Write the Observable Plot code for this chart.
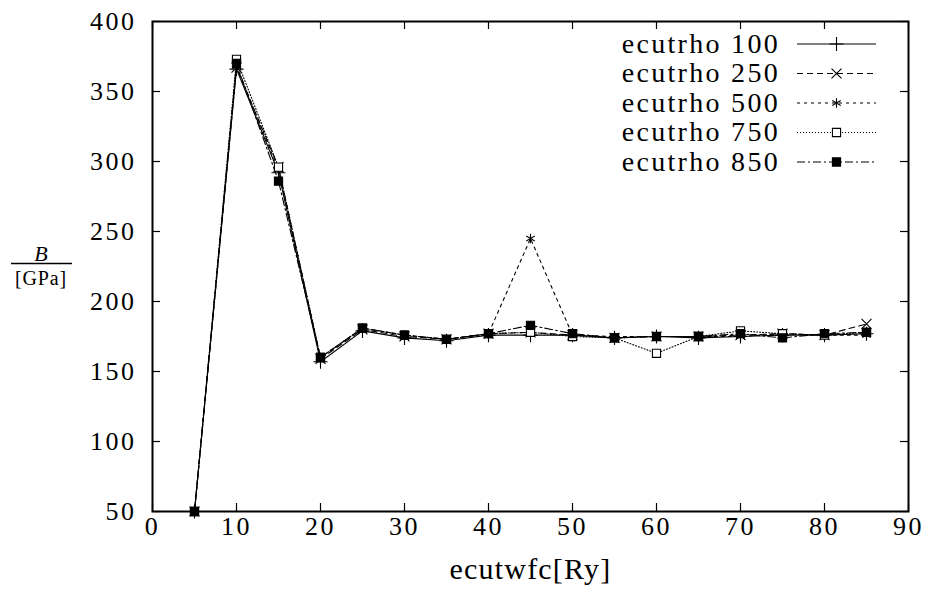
<!DOCTYPE html>
<html><head><meta charset="utf-8">
<script src="https://cdn.jsdelivr.net/npm/d3@7"></script>
<script src="https://cdn.jsdelivr.net/npm/@observablehq/plot@0.6"></script>
<style>
body{margin:0;background:#fff}
svg text { font-family: "Liberation Serif", "Times New Roman", Times, "DejaVu Serif", serif !important; }
</style>
</head><body><div id="chart"></div>
<script>
// ---- data ----
const ecutwfc = [5, 10, 15, 20, 25, 30, 35, 40, 45, 50, 55, 60, 65, 70, 75, 80, 85];
const ecutrho100 = [50, 366, 292, 157, 179, 174, 172, 176, 176, 176, 174, 175, 174, 175, 176, 176, 177];
const ecutrho250 = [50, 367, 296, 159, 180, 175, 173, 177, 178, 176, 174, 175, 175, 176, 177, 176, 184];
const ecutrho500 = [50, 368, 294, 160, 181, 176, 173, 177, 245, 176, 175, 175, 175, 175, 177, 176, 176];
const ecutrho750 = [50, 373, 296, 160, 181, 176, 173, 177, 178, 175, 174, 163, 175, 179, 177, 176, 178];
const ecutrho850 = [50, 370, 286, 160, 181, 176, 173, 177, 183, 177, 174, 175, 175, 177, 174, 177, 178];
const seriesNames = ["ecutrho 100", "ecutrho 250", "ecutrho 500", "ecutrho 750", "ecutrho 850"];
const seriesValues = [ecutrho100, ecutrho250, ecutrho500, ecutrho750, ecutrho850];
const xTicks = [0, 10, 20, 30, 40, 50, 60, 70, 80, 90];
const yTicks = [50, 100, 150, 200, 250, 300, 350, 400];
const xLabel = "ecutwfc[Ry]";
const yLabelTop = "B";
const yLabelBottom = "[GPa]";

// ---- styles ----
const seriesStyles = [
  {dash: null, symbol: "plus", fill: "none"},
  {dash: "6,4", symbol: "times", fill: "none"},
  {dash: "3,4", symbol: "asterisk", fill: "none"},
  {dash: "1,2", symbol: "square", fill: "white"},
  {dash: "8,3,2,3", symbol: "square", fill: "black"}
];
const W = 935, H = 603;
const M = {top: 21, right: 27, bottom: 92, left: 152};
const innerH = H - M.top - M.bottom;
const innerW = W - M.left - M.right;
const font = '"Liberation Serif", "Times New Roman", serif';

const marks = [];
seriesValues.forEach((vals, i) => {
  const rows = ecutwfc.map((x, j) => ({x, y: vals[j]}));
  const st = seriesStyles[i];
  marks.push(Plot.line(rows, {x: "x", y: "y", stroke: "black", strokeWidth: 1.1, strokeDasharray: st.dash}));
});
seriesValues.forEach((vals, i) => {
  const rows = ecutwfc.map((x, j) => ({x, y: vals[j]}));
  const st = seriesStyles[i];
  marks.push(Plot.dot(rows, {x: "x", y: "y", symbol: () => st.symbol, r: 4.6, stroke: "black", strokeWidth: 1.1, fill: st.fill}));
});

const chart = Plot.plot({
  width: W, height: H,
  marginTop: M.top, marginRight: M.right, marginBottom: M.bottom, marginLeft: M.left,
  style: {fontFamily: font, background: "white", color: "black"},
  x: {domain: [0, 90], label: null},
  y: {domain: [50, 400], label: null},
  symbol: {type: "identity"},
  marks: [
    Plot.ruleX(xTicks, {x: d => d, insetTop: innerH - 8, stroke: "black", strokeWidth: 1.2}),
    Plot.ruleX(xTicks, {x: d => d, insetBottom: innerH - 8, stroke: "black", strokeWidth: 1.2}),
    Plot.ruleY(yTicks, {y: d => d, insetRight: innerW - 8, stroke: "black", strokeWidth: 1.2}),
    Plot.ruleY(yTicks, {y: d => d, insetLeft: innerW - 8, stroke: "black", strokeWidth: 1.2}),
    Plot.axisX(xTicks, {tickSize: 0, tickPadding: 5, fontSize: 26, label: null}),
    Plot.axisY(yTicks, {tickSize: 0, tickPadding: 16, fontSize: 26, label: null}),
    ...marks,
    Plot.frame({stroke: "black", strokeWidth: 2}),
    Plot.text([xLabel], {text: d => d, frameAnchor: "bottom", dy: 67, fontSize: 30, fill: "black"})
  ]
});

const svg = d3.select(chart);
svg.selectAll("g[aria-label='x-axis tick label'] text, g[aria-label='y-axis tick label'] text").attr("letter-spacing", 2.5);
svg.selectAll("g[aria-label='text'] text").attr("letter-spacing", 1.2);
const lg = svg.append("g");
const rowH = 29.5, lineX1 = W - M.right - 111, lineX2 = W - M.right - 32, textX = W - M.right - 128;
seriesNames.forEach((name, i) => {
  const cy = M.top + 23 + i * rowH;
  const st = seriesStyles[i];
  lg.append("text").attr("x", textX).attr("y", cy).attr("dy", "0.32em")
    .attr("text-anchor", "end").attr("font-size", 28).attr("letter-spacing", 2.3).text(name);
  lg.append("line").attr("x1", lineX1).attr("x2", lineX2).attr("y1", cy).attr("y2", cy)
    .attr("stroke", "black").attr("stroke-width", 1.1).attr("stroke-dasharray", st.dash);
  const sym = {plus: d3.symbolPlus, times: d3.symbolTimes, asterisk: d3.symbolAsterisk, square: d3.symbolSquare}[st.symbol];
  lg.append("path").attr("transform", `translate(${(lineX1 + lineX2) / 2},${cy})`)
    .attr("d", d3.symbol(sym, 4.6 * 4.6 * Math.PI)())
    .attr("stroke", "black").attr("stroke-width", 1.1).attr("fill", st.fill);
});
const yl = svg.append("g").attr("text-anchor", "middle");
const cyMid = M.top + innerH / 2;
yl.append("text").attr("x", 41).attr("y", cyMid - 5).attr("font-size", 22).attr("font-style", "italic").text(yLabelTop);
yl.append("line").attr("x1", 11).attr("x2", 72).attr("y1", cyMid - 2.5).attr("y2", cyMid - 2.5).attr("stroke", "black").attr("stroke-width", 1.5);
yl.append("text").attr("x", 41).attr("y", cyMid + 19).attr("font-size", 20).attr("letter-spacing", 0.8).text(yLabelBottom);

document.getElementById("chart").appendChild(chart);
</script>
</body></html>
